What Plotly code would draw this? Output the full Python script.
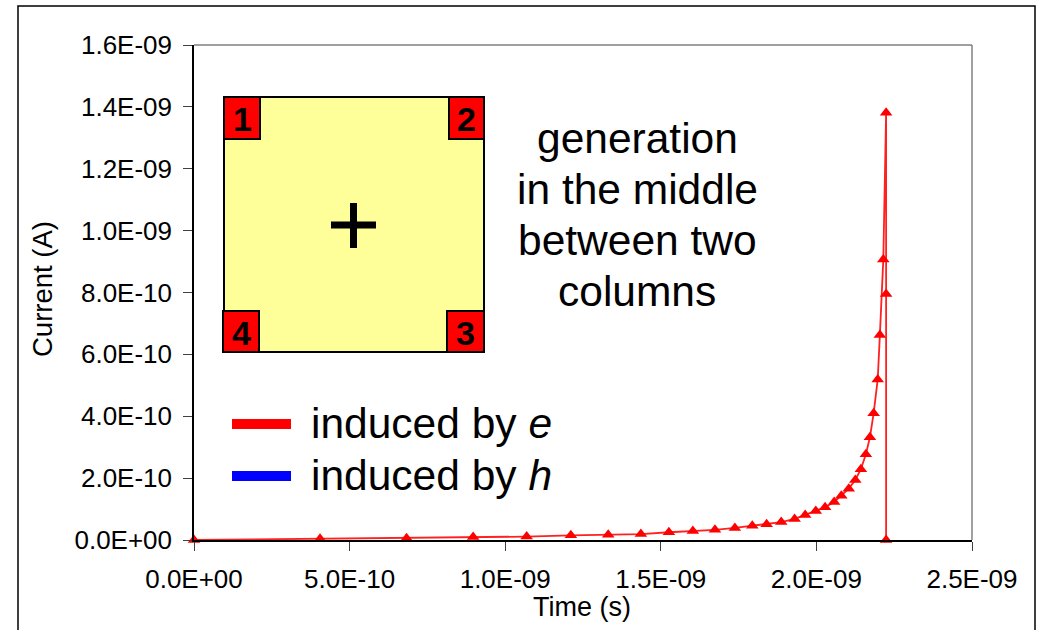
import plotly.graph_objects as go

# ---- data ----
time_s = [0.0, 4.05e-10, 6.83e-10, 8.97e-10, 1.069e-9, 1.211e-9, 1.331e-9, 1.436e-9,
          1.526e-9, 1.603e-9, 1.674e-9, 1.738e-9, 1.794e-9, 1.840e-9, 1.887e-9,
          1.930e-9, 1.964e-9, 1.998e-9, 2.028e-9, 2.057e-9, 2.080e-9, 2.104e-9,
          2.125e-9, 2.143e-9, 2.159e-9, 2.172e-9, 2.184e-9, 2.197e-9, 2.204e-9,
          2.215e-9, 2.224e-9, 2.224e-9, 2.224e-9]
current_e = [0.0, 4e-12, 6e-12, 1.0e-11, 1.1e-11, 1.5e-11, 1.7e-11, 1.9e-11,
             2.5e-11, 2.9e-11, 3.3e-11, 3.9e-11, 4.6e-11, 5.1e-11, 5.8e-11,
             6.8e-11, 8.1e-11, 9.4e-11, 1.06e-10, 1.23e-10, 1.43e-10, 1.66e-10,
             1.94e-10, 2.29e-10, 2.77e-10, 3.32e-10, 4.10e-10, 5.19e-10, 6.63e-10,
             9.07e-10, 1.381e-9, 7.95e-10, 0.0]

x_tickvals = [0.0, 5e-10, 1e-9, 1.5e-9, 2e-9, 2.5e-9]
x_ticktext = ["0.0E+00", "5.0E-10", "1.0E-09", "1.5E-09", "2.0E-09", "2.5E-09"]
y_tickvals = [0.0, 2e-10, 4e-10, 6e-10, 8e-10, 1e-9, 1.2e-9, 1.4e-9, 1.6e-9]
y_ticktext = ["0.0E+00", "2.0E-10", "4.0E-10", "6.0E-10", "8.0E-10",
              "1.0E-09", "1.2E-09", "1.4E-09", "1.6E-09"]

series_labels = ["induced by <i>e</i>", "induced by <i>h</i>"]
series_colors = ["#FF0000", "#0000FF"]
inset_text = ["generation", "in the middle", "between two", "columns"]
corner_labels = ["1", "2", "3", "4"]

FONT = "Liberation Sans, Arial, sans-serif"

# ---- layout geometry (pixels) ----
W, H = 1044, 630
L, R, T, B = 194, 972, 45, 540


def px(x):
    return (x - L) / (R - L)


def py(y):
    return (B - y) / (B - T)


fig = go.Figure()
fig.add_trace(go.Scatter(
    x=time_s, y=current_e, mode="lines+markers",
    line=dict(color="#FF2020", width=1.8),
    marker=dict(symbol="triangle-up", size=11, color="#FF0000"),
    showlegend=False, cliponaxis=False,
))

shapes = []
annotations = []

# outer frame
shapes.append(dict(type="rect", xref="paper", yref="paper",
                   x0=px(18), x1=px(1035), y0=py(640), y1=py(6),
                   line=dict(color="black", width=1.5), layer="below"))
# plot-area top/right border (gray)
shapes.append(dict(type="line", xref="paper", yref="paper",
                   x0=0, x1=1, y0=1, y1=1, line=dict(color="#808080", width=1.5)))
shapes.append(dict(type="line", xref="paper", yref="paper",
                   x0=1, x1=1, y0=0, y1=1, line=dict(color="#808080", width=1.5)))

# inset square
shapes.append(dict(type="rect", xref="paper", yref="paper",
                   x0=px(224), x1=px(484), y0=py(352), y1=py(97),
                   fillcolor="#FFFF99", line=dict(color="black", width=2)))
boxes = [(224, 260, 97, 139), (449, 484, 97, 139), (447, 484, 311, 352), (223, 259, 311, 352)]
for (x0, x1, y0, y1), lab in zip(boxes, corner_labels):
    shapes.append(dict(type="rect", xref="paper", yref="paper",
                       x0=px(x0), x1=px(x1), y0=py(y1), y1=py(y0),
                       fillcolor="#FF0000", line=dict(color="black", width=2)))
    annotations.append(dict(xref="paper", yref="paper", x=px((x0 + x1) / 2), y=py((y0 + y1) / 2 + 1),
                            text="<b>" + lab + "</b>", showarrow=False,
                            font=dict(family=FONT, size=34, color="black"),
                            xanchor="center", yanchor="middle"))
# plus sign
shapes.append(dict(type="line", xref="paper", yref="paper",
                   x0=px(331), x1=px(376), y0=py(225), y1=py(225),
                   line=dict(color="black", width=7)))
shapes.append(dict(type="line", xref="paper", yref="paper",
                   x0=px(353.5), x1=px(353.5), y0=py(203), y1=py(248),
                   line=dict(color="black", width=7)))

# inset descriptive text
for i, line in enumerate(inset_text):
    annotations.append(dict(xref="paper", yref="paper", x=px(637), y=py(138 + 51 * i),
                            text=line, showarrow=False,
                            font=dict(family=FONT, size=42.5, color="black"),
                            xanchor="center", yanchor="middle"))

# legend (drawn)
for i, (lab, col) in enumerate(zip(series_labels, series_colors)):
    yc = 424 + 52 * i
    shapes.append(dict(type="line", xref="paper", yref="paper",
                       x0=px(232), x1=px(291), y0=py(yc), y1=py(yc),
                       line=dict(color=col, width=10)))
    annotations.append(dict(xref="paper", yref="paper", x=px(309), y=py(yc - 1),
                            text=lab, showarrow=False,
                            font=dict(family=FONT, size=42.5, color="black"),
                            xanchor="left", yanchor="middle"))

# axis titles
annotations.append(dict(xref="paper", yref="paper", x=px(582), y=py(607),
                        text="Time (s)", showarrow=False,
                        font=dict(family=FONT, size=27, color="black"),
                        xanchor="center", yanchor="middle"))
annotations.append(dict(xref="paper", yref="paper", x=px(42), y=py(289),
                        text="Current (A)", showarrow=False, textangle=-90,
                        font=dict(family=FONT, size=27.5, color="black"),
                        xanchor="center", yanchor="middle"))

fig.update_layout(
    width=W, height=H,
    margin=dict(l=L, r=W - R, t=T, b=H - B, pad=0),
    paper_bgcolor="white", plot_bgcolor="white",
    shapes=shapes, annotations=annotations,
    font=dict(family=FONT, color="black"),
    xaxis=dict(range=[0, 2.5e-9], tickvals=x_tickvals, ticktext=x_ticktext,
               showgrid=False, zeroline=False, showline=True, linecolor="black", linewidth=2,
               ticks="outside", ticklen=9, tickwidth=1, tickcolor="#404040",
               tickfont=dict(family=FONT, size=26, color="black"), ticklabelstandoff=6),
    yaxis=dict(range=[0, 1.6e-9], tickvals=y_tickvals, ticktext=y_ticktext,
               showgrid=False, zeroline=False, showline=True, linecolor="black", linewidth=1.5,
               ticks="outside", ticklen=9, tickwidth=1, tickcolor="#404040",
               tickfont=dict(family=FONT, size=26, color="black"), ticklabelstandoff=6),
)

fig.write_html("out.html")
